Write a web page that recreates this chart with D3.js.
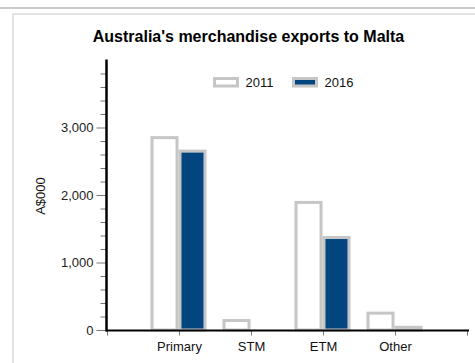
<!DOCTYPE html>
<html>
<head>
<meta charset="utf-8">
<script src="https://cdn.jsdelivr.net/npm/d3@7"></script>
<style>
  html, body { margin: 0; padding: 0; background: #fff; }
  svg { display: block; font-family: "Liberation Sans", Arial, sans-serif; }
</style>
</head>
<body>
<svg id="chart" width="475" height="363"></svg>
<script>
// Export values, A$000
const categories = ["Primary", "STM", "ETM", "Other"];
const years = ["2011", "2016"];
const values2011 = [2850, 140, 1890, 250];
const values2016 = [2650, 0, 1370, 40];
const yTicksMajor = [0, 1000, 2000, 3000];

const W = 475, H = 363;
const svg = d3.select("#chart");

// Page frame
svg.append("rect").attr("x", 0).attr("y", 7).attr("width", W).attr("height", 2).attr("fill", "#c9c9c9");
svg.append("rect").attr("x", 12).attr("y", 13).attr("width", W).attr("height", 2).attr("fill", "#e2e2e2");
svg.append("rect").attr("x", 12).attr("y", 13).attr("width", 2).attr("height", H).attr("fill", "#e2e2e2");

// Scales: categories sit at positions 1..4 on a 0..5 axis
const x = d3.scaleLinear().domain([0, 5]).range([107, 467]);
const y = d3.scaleLinear().domain([0, 4000]).range([330, 60]);

const fill = { "2011": "#ffffff", "2016": "#03467f" };
const stroke = "#c6c6c6";
const barW = 28, sw = 3;

// Title
svg.append("text")
  .attr("x", 248.5).attr("y", 42)
  .attr("text-anchor", "middle")
  .attr("font-size", "16px").attr("font-weight", "bold").attr("fill", "#000")
  .text("Australia's merchandise exports to Malta");

// Bars
const rows = categories.map((c, i) => ({ c, i, v: [values2011[i], values2016[i]] }));
years.forEach((yr, k) => {
  svg.append("g").selectAll("rect")
    .data(rows.filter(d => d.v[k] > 0))
    .join("rect")
    .attr("x", d => x(d.i + 1) + (k === 0 ? -barW - 0.5 : -0.5) + sw / 2)
    .attr("y", d => y(d.v[k]))
    .attr("width", barW - sw)
    .attr("height", d => y(0) - y(d.v[k]))
    .attr("fill", fill[yr])
    .attr("stroke", stroke)
    .attr("stroke-width", sw);
});

// Y axis: minor ticks every 200, labelled majors every 1000
const minor = d3.range(200, 4000, 200).filter(v => v % 1000 !== 0);
svg.append("g")
  .attr("transform", "translate(106.5,0)")
  .call(d3.axisLeft(y).tickValues(minor).tickSize(6).tickFormat(""))
  .call(g => g.select(".domain").remove())
  .call(g => g.selectAll(".tick line").attr("stroke", "#777"));

const yAxis = svg.append("g")
  .attr("transform", "translate(106.5,0)")
  .call(d3.axisLeft(y).tickValues(yTicksMajor).tickSize(10).tickPadding(3).tickFormat(d3.format(",")))
  .call(g => g.select(".domain").remove());
yAxis.selectAll(".tick line").attr("stroke", "#777");
yAxis.selectAll(".tick text").attr("font-size", "13px").attr("fill", "#222")
  .attr("font-family", "Liberation Sans, Arial, sans-serif");

svg.append("line")
  .attr("x1", 106.5).attr("x2", 106.5).attr("y1", 59.5).attr("y2", 331.5)
  .attr("stroke", "#000").attr("stroke-width", 2.5);

// X axis
const xAxis = svg.append("g")
  .attr("transform", "translate(0,330.5)")
  .call(d3.axisBottom(x).tickValues(d3.range(0, 6)).tickSize(5).tickPadding(6)
    .tickFormat(i => categories[i - 1] || ""))
  .call(g => g.select(".domain").remove());
xAxis.selectAll(".tick line").attr("stroke", "#777");
xAxis.selectAll(".tick text").attr("font-size", "13px").attr("fill", "#111")
  .attr("font-family", "Liberation Sans, Arial, sans-serif");

svg.append("line")
  .attr("x1", 106).attr("x2", 469).attr("y1", 330.5).attr("y2", 330.5)
  .attr("stroke", "#000").attr("stroke-width", 2);

// Y axis title
svg.append("text")
  .attr("transform", "translate(45,196) rotate(-90)")
  .attr("text-anchor", "middle")
  .attr("font-size", "13px").attr("fill", "#111")
  .text("A$000");

// Legend
const legend = svg.append("g");
const legendX = [214.5, 293.5];
years.forEach((yr, k) => {
  legend.append("rect")
    .attr("x", legendX[k]).attr("y", 78.5)
    .attr("width", 23).attr("height", 7.5)
    .attr("fill", fill[yr]).attr("stroke", stroke).attr("stroke-width", sw);
  legend.append("text")
    .attr("x", legendX[k] + 31).attr("y", 87)
    .attr("font-size", "13px").attr("fill", "#111")
    .text(yr);
});
</script>
</body>
</html>
